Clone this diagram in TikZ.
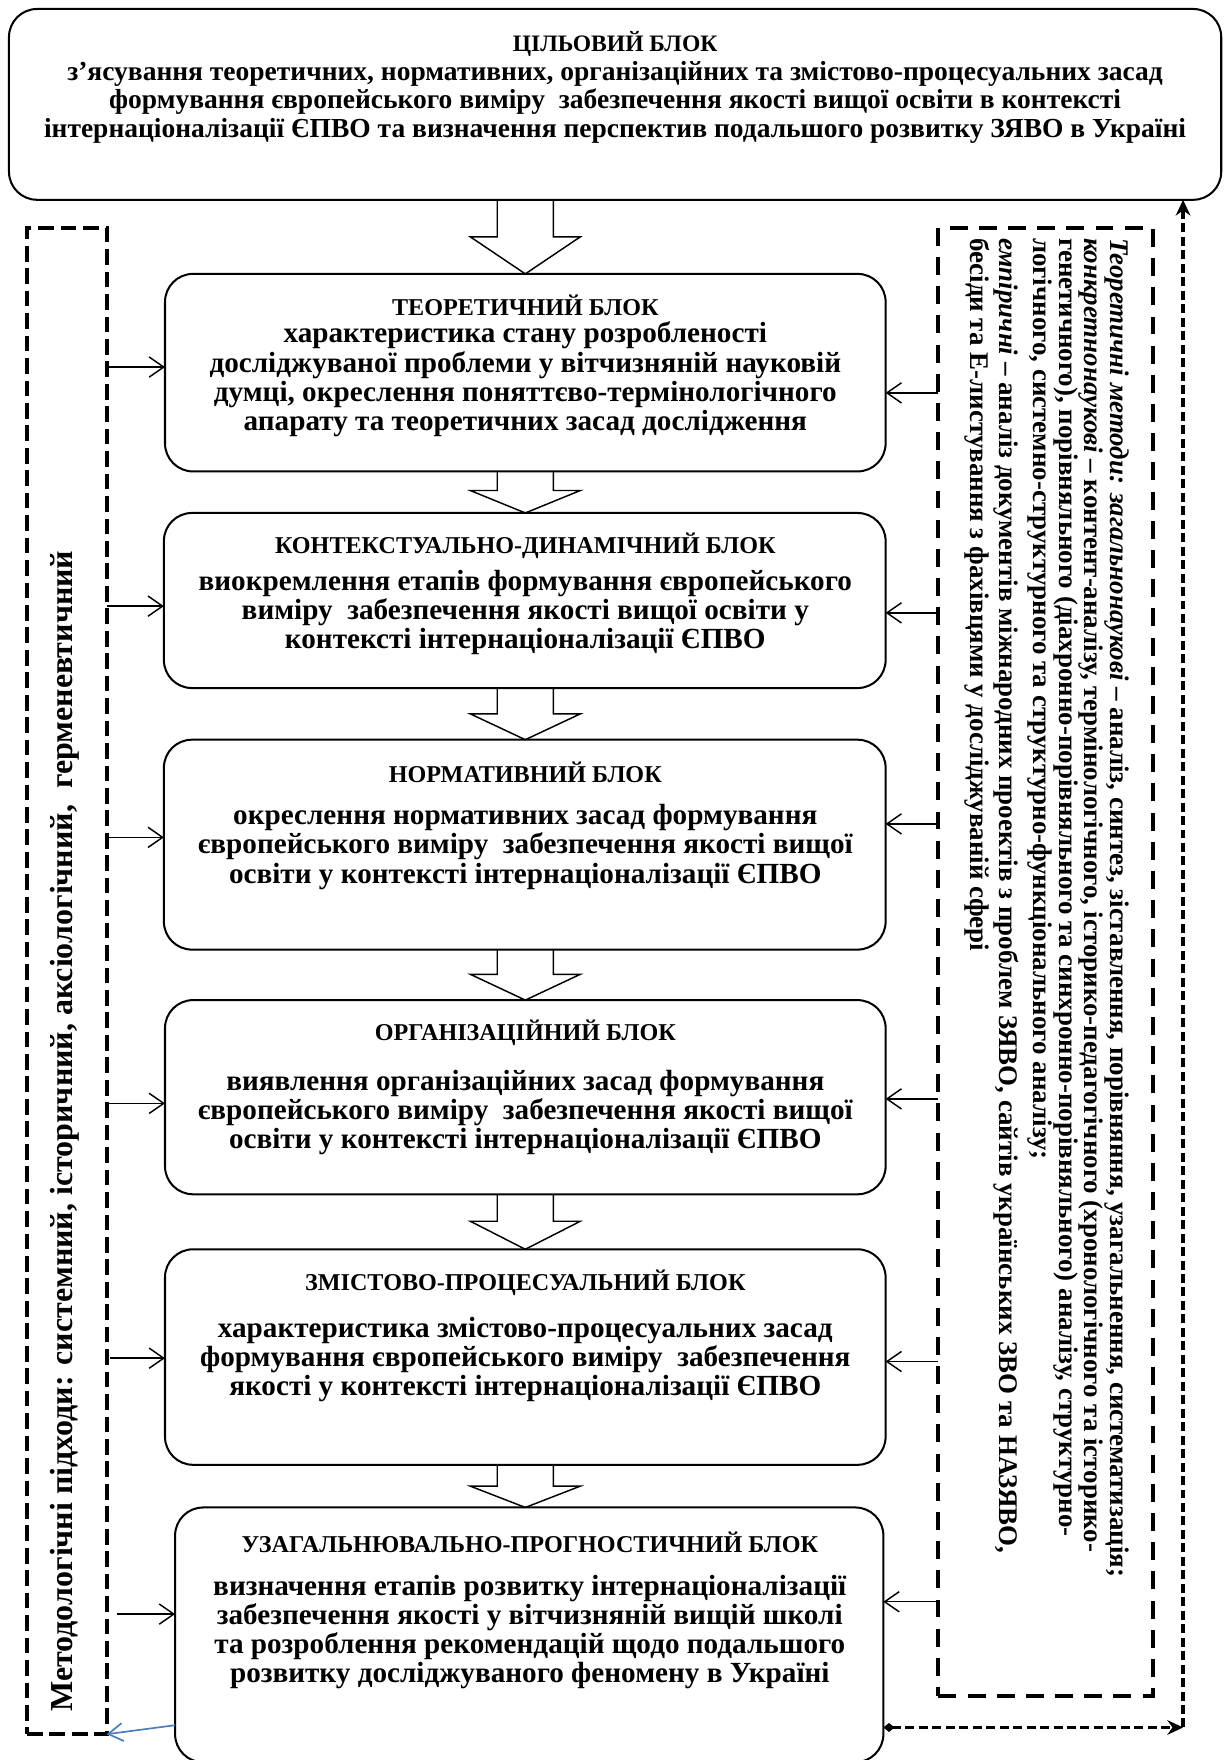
\documentclass[tikz,border=0pt]{standalone}
\usepackage{fontspec}
\setmainfont{Liberation Serif}
\usetikzlibrary{arrows.meta,calc}
\definecolor{wordblue}{RGB}{74,126,187}
\tikzset{
 blockbox/.style={draw, line width=1.8pt, rounded corners=25pt, inner sep=0pt, outer sep=0pt},
 hd/.style={font=\fontsize{21.5}{23}\selectfont\bfseries, align=center, inner sep=0pt},
 hdtop/.style={font=\fontsize{21}{23}\selectfont\bfseries, align=center, inner sep=0pt},
 bd/.style={font=\fontsize{26}{26}\selectfont\bfseries, align=center, inner sep=0pt},
 bdtop/.style={font=\fontsize{24.5}{25.5}\selectfont\bfseries, align=center, inner sep=0pt},
 hollowarr/.style={draw, line width=1.3pt, line join=miter},
 sidearr/.style={line width=1.3pt, -{Straight Barb[length=13pt,width=18pt]}},
 lboxst/.style={draw, line width=3.6pt, dash pattern=on 14pt off 6pt, inner sep=0pt, outer sep=0pt},
 rboxst/.style={draw, line width=3.5pt, dash pattern=on 16pt off 10pt, inner sep=0pt, outer sep=0pt},
 outerline/.style={line width=3pt, dash pattern=on 8pt off 4pt},
 rtextst/.style={font=\fontsize{24}{20}\selectfont\bfseries, align=left, inner sep=0pt},
 ltextst/.style={font=\fontsize{28.5}{28.5}\selectfont\bfseries, inner sep=0pt},
}
\newcommand\hollowarrow[3]{%
 \draw[hollowarr] let \p1=(#1.south), \p2=(#2.north), \p3=(axis) in
 (\x3-25pt,\y1) -- (\x3-25pt,\y2+#3pt) -- (\x3-49pt,\y2+#3pt) -- (\x3,\y2)
 -- (\x3+49pt,\y2+#3pt) -- (\x3+25pt,\y2+#3pt) -- (\x3+25pt,\y1);}
\begin{document}
\begin{tikzpicture}[x=1pt,y=1pt]
\path[use as bounding box, clip] (0,0) rectangle (1091,-1568);
\fill[white] (0,0) rectangle (1091,-1568);

% blocks
\node[blockbox, minimum width=1080pt, minimum height=170pt] (top) at (548,-93) {};
\node[blockbox, minimum width=642pt, minimum height=176pt] (b1) at (468,-332) {};
\node[blockbox, minimum width=643pt, minimum height=156pt] (b2) at (467.5,-535) {};
\node[blockbox, minimum width=643pt, minimum height=187pt] (b3) at (467.5,-752.5) {};
\node[blockbox, minimum width=642pt, minimum height=173pt] (b4) at (468,-977.5) {};
\node[blockbox, minimum width=642pt, minimum height=192pt] (b5) at (468,-1209) {};
\node[blockbox, minimum width=631pt, minimum height=227pt] (b6) at (471.5,-1456.5) {};

% texts
\node[hdtop] (toph) at (548,-39) {ЦІЛЬОВИЙ БЛОК};
\node[bdtop] (topt) at (548,-91) {з’ясування теоретичних, нормативних, організаційних та змістово-процесуальних засад\\
формування європейського виміру\ \ забезпечення якості вищої освіти в контексті\\
інтернаціоналізації ЄПВО та визначення перспектив подальшого розвитку ЗЯВО в Україні};

\node[hd] (b1h) at (468,-272) {ТЕОРЕТИЧНИЙ БЛОК};
\node[bd] (b1t) at (468,-338) {характеристика стану розробленості\\
досліджуваної проблеми у вітчизняній науковій\\
думці, окреслення поняттєво-термінологічного\\
апарату та теоретичних засад дослідження};

\node[hd] (b2h) at (468,-486) {КОНТЕКСТУАЛЬНО-ДИНАМІЧНИЙ БЛОК};
\node[bd] (b2t) at (468,-545.5) {виокремлення етапів формування європейського\\
виміру\ \ забезпечення якості вищої освіти у\\
контексті інтернаціоналізації ЄПВО};

\node[hd] (b3h) at (468,-688) {НОРМАТИВНИЙ БЛОК};
\node[bd] (b3t) at (468,-754.5) {окреслення нормативних засад формування\\
європейського виміру\ \ забезпечення якості вищої\\
освіти у контексті інтернаціоналізації ЄПВО};

\node[hd] (b4h) at (468,-920) {ОРГАНІЗАЦІЙНИЙ БЛОК};
\node[bd] (b4t) at (468,-991) {виявлення організаційних засад формування\\
європейського виміру\ \ забезпечення якості вищої\\
освіти у контексті інтернаціоналізації ЄПВО};

\node[hd] (b5h) at (468,-1143) {ЗМІСТОВО-ПРОЦЕСУАЛЬНИЙ БЛОК};
\node[bd] (b5t) at (468,-1211) {характеристика змістово-процесуальних засад\\
формування європейського виміру\ \ забезпечення\\
якості у контексті інтернаціоналізації ЄПВО};

\node[hd] (b6h) at (472,-1374) {УЗАГАЛЬНЮВАЛЬНО-ПРОГНОСТИЧНИЙ БЛОК};
\node[bd] (b6t) at (472,-1454) {визначення етапів розвитку інтернаціоналізації\\
забезпечення якості у вітчизняній вищій школі\\
та розроблення рекомендацій щодо подальшого\\
розвитку досліджуваного феномену в Україні};

% hollow arrows
\coordinate (axis) at (468,0);
\hollowarrow{top}{b1}{33}
\hollowarrow{b1}{b2}{20}
\hollowarrow{b2}{b3}{23}
\hollowarrow{b3}{b4}{23}
\hollowarrow{b4}{b5}{25}
\hollowarrow{b5}{b6}{19}

% side boxes
\node[lboxst, minimum width=71pt, minimum height=1342pt] (lbox) at (59.5,-874) {};
\node[rboxst, minimum width=191pt, minimum height=1308pt] (rbox) at (931.5,-857) {};

\node[ltextst, rotate=90, anchor=base west] (ltext) at (65,-1525)
 {Методологічні підходи: системний, історичний, аксіологічний,\ \ герменевтичний};

\node[rtextst, rotate=-90, anchor=north west] (rtext) at (1006,-212)
 {\textit{Теоретичні методи: загальнонаукові} – аналіз, синтез, зіставлення, порівняння, узагальнення, систематизація;\\
 \textit{конкретнонаукові} – контент-аналізу, термінологічного, історико-педагогічного (хронологічного та історико-\\
 генетичного), порівняльного (діахронно-порівняльного та синхронно-порівняльного) аналізу, структурно-\\
 логічного, системно-структурного та структурно-функціонального аналізу;\\[7pt]
 \textit{емпіричні} – аналіз документів міжнародних проектів з проблем ЗЯВО, сайтів українських ЗВО та НАЗЯВО,\\[2pt]
 бесіди та Е-листування з фахівцями у досліджуваній сфері};

% left arrows
\coordinate (l1) at (0,-327);
\coordinate (l2) at (0,-540);
\coordinate (l3) at (0,-746);
\coordinate (l4) at (0,-983);
\coordinate (l5) at (0,-1210);
\coordinate (l6) at (0,-1438);
\draw[sidearr] (lbox.east |- l1) -- (b1.west |- l1);
\draw[sidearr] (lbox.east |- l2) -- (b2.west |- l2);
\draw[sidearr] (lbox.east |- l3) -- (b3.west |- l3);
\draw[sidearr] (lbox.east |- l4) -- (b4.west |- l4);
\draw[sidearr] ($(lbox.east |- l5)+(3,0)$) -- (b5.west |- l5);
\draw[sidearr] ($(lbox.east |- l6)+(9,0)$) -- (b6.west |- l6);

% right arrows
\coordinate (r1) at (0,-350);
\coordinate (r2) at (0,-546);
\coordinate (r3) at (0,-734);
\coordinate (r4) at (0,-979);
\coordinate (r5) at (0,-1213);
\coordinate (r6) at (0,-1427);
\draw[sidearr] (rbox.west |- r1) -- (b1.east |- r1);
\draw[sidearr] (rbox.west |- r2) -- (b2.east |- r2);
\draw[sidearr] (rbox.west |- r3) -- (b3.east |- r3);
\draw[sidearr] (rbox.west |- r4) -- (b4.east |- r4);
\draw[sidearr] (rbox.west |- r5) -- (b5.east |- r5);
\draw[sidearr] (rbox.west |- r6) -- (b6.east |- r6);

% feedback loop
\coordinate (corner) at (1054,-1539);
\draw[outerline, {Diamond[length=10pt,width=8pt]}-{Stealth[length=14pt,width=13pt]}] (b6.east |- corner) -- (corner);
\draw[outerline, -{Stealth[length=14pt,width=13pt]}] (corner) -- (top.south -| corner);

% blue arrow
\coordinate (bl) at (0,-1537);
\draw[wordblue, line width=1.5pt, -{Straight Barb[length=13pt,width=16pt]}] (b6.west |- bl) -- (lbox.south east);
\end{tikzpicture}
\end{document}
